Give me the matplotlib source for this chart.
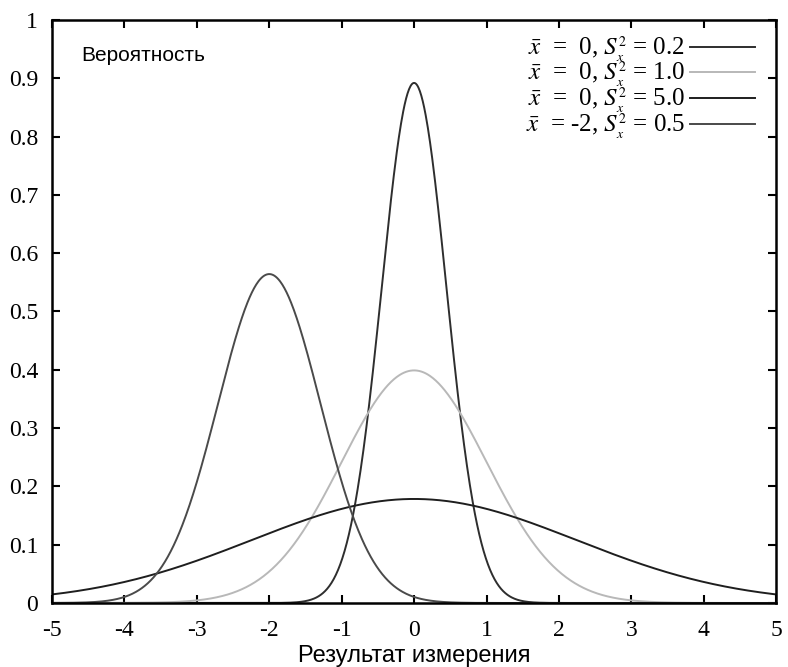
import numpy as np
import matplotlib
matplotlib.use("Agg")
import matplotlib.pyplot as plt
from matplotlib import _mathtext

# мелкие индексы, как в оригинале
_mathtext.SHRINK_FACTOR = 0.55

# параметры нормальных распределений (среднее, дисперсия)
means = [0, 0, 0, -2]
variances = [0.2, 1.0, 5.0, 0.5]
labels = [
    r"$\bar{x}$  =  0, $S_x^2$ = 0.2",
    r"$\bar{x}$  =  0, $S_x^2$ = 1.0",
    r"$\bar{x}$  =  0, $S_x^2$ = 5.0",
    r"$\bar{x}$  = -2, $S_x^2$ = 0.5",
]
colors = ["#2e2e2e", "#b8b8b8", "#1e1e1e", "#4a4a4a"]

x_ticks = list(range(-5, 6))
y_ticks = [0, 0.1, 0.2, 0.3, 0.4, 0.5, 0.6, 0.7, 0.8, 0.9, 1]
y_ticklabels = ["0", "0.1", "0.2", "0.3", "0.4", "0.5", "0.6", "0.7", "0.8", "0.9", "1"]

plt.rcParams["font.family"] = ["Liberation Serif", "DejaVu Serif"]
plt.rcParams["mathtext.fontset"] = "stix"

fig = plt.figure(figsize=(7.88, 6.67), dpi=100)
ax = fig.add_axes([0.066, 0.096, 0.919, 0.874])

xs = np.linspace(-5, 5, 1001)
for m, v, lab, c in zip(means, variances, labels, colors):
    pdf = np.exp(-(xs - m) ** 2 / (2 * v)) / np.sqrt(2 * np.pi * v)
    ax.plot(xs, pdf, color=c, linewidth=1.4, label=lab)

ax.set_xlim(-5, 5)
ax.set_ylim(0, 1)
ax.set_xticks(x_ticks)
ax.set_xticklabels([str(t) for t in x_ticks], fontsize=17)
ax.set_yticks(y_ticks)
ax.set_yticklabels(y_ticklabels, fontsize=17)
ax.tick_params(direction="in", length=5.5, width=1.5, top=True, right=True)
ax.tick_params(axis="x", pad=12)
ax.tick_params(axis="y", pad=10)
for s in ax.spines.values():
    s.set_linewidth(1.8)

ax.set_xlabel("Результат измерения", family="Liberation Sans", fontsize=17, labelpad=3)
ax.text(0.041, 0.955, "Вероятность", transform=ax.transAxes,
        family="Liberation Sans", fontsize=15, va="top", ha="left")

leg = ax.legend(loc="upper right", bbox_to_anchor=(0.988, 0.996),
                frameon=False, markerfirst=False,
                prop={"family": "Liberation Serif", "size": 18},
                handlelength=2.6, labelspacing=-0.18, borderaxespad=0.1,
                handletextpad=0.2)

plt.savefig("out.png", dpi=100)
